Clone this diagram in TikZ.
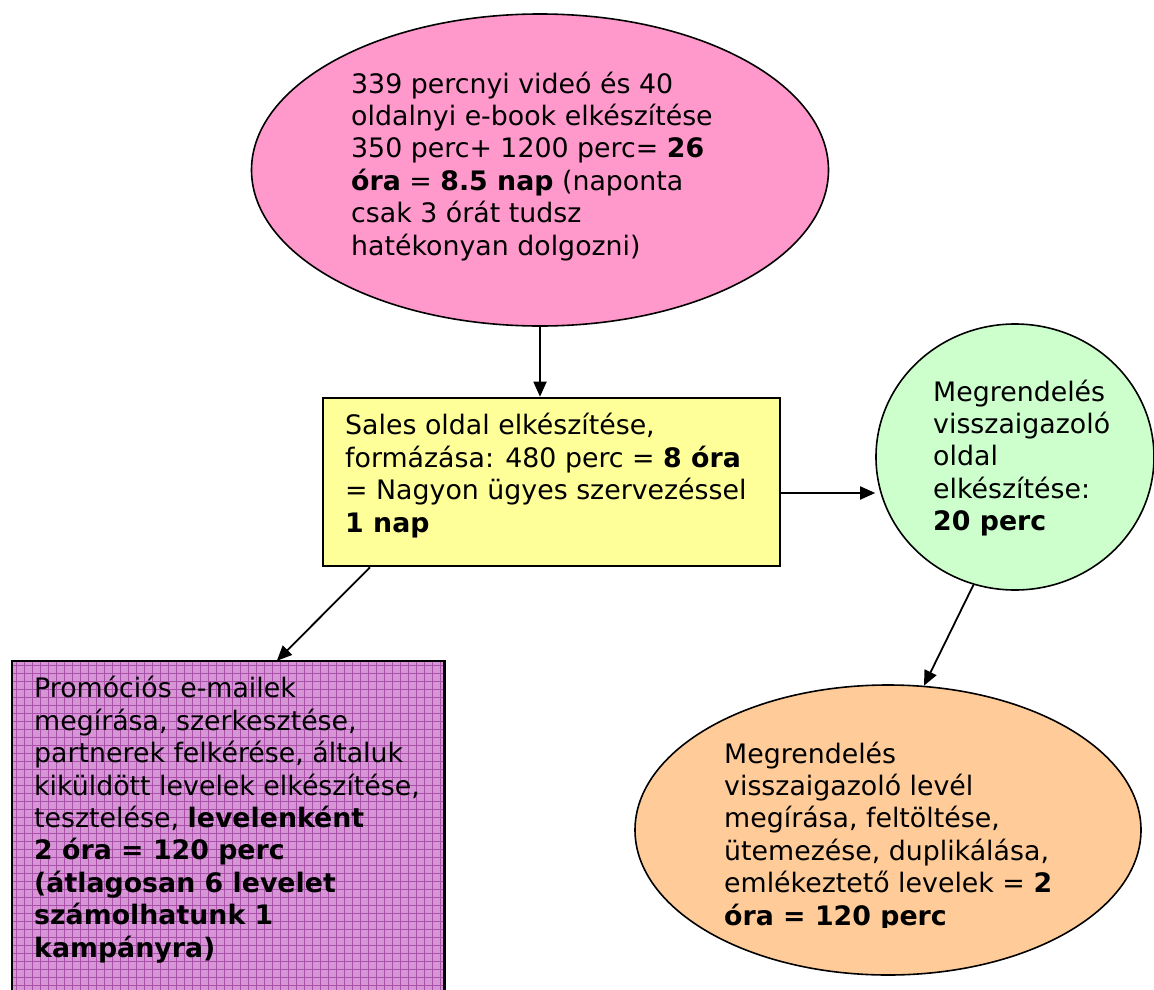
\documentclass[tikz,border=0pt]{standalone}
\usepackage{fontspec}
\setmainfont{DejaVu Sans}
\usetikzlibrary{arrows.meta,calc,shapes.geometric}
\definecolor{pinkf}{HTML}{FF99CC}
\definecolor{yellowf}{HTML}{FFFF99}
\definecolor{greenf}{HTML}{CCFFCC}
\definecolor{orangef}{HTML}{FFCC99}
\definecolor{purplef}{RGB}{214,150,214}
\definecolor{purpleg}{RGB}{170,80,170}
\tikzset{
  txt/.style={anchor=base west, align=left, inner sep=0pt, font=\fontsize{26.8}{32.4}\selectfont},
  ell/.style={ellipse, draw, line width=1.6pt, inner sep=0pt},
  boxs/.style={rectangle, draw, line width=2.6pt, inner sep=0pt},
  arr/.style={line width=1.8pt, -{Triangle[length=15pt,width=13pt]}},
}
\begin{document}
\begin{tikzpicture}[x=1pt,y=-1pt]
\useasboundingbox (0,0) rectangle (1154,990);
\clip (0,0) rectangle (1154,990);
% shapes
\node[ell, fill=pinkf, minimum width=577pt, minimum height=312pt] (pink) at (540,170) {};
\node[boxs, fill=yellowf, minimum width=457pt, minimum height=168pt] (yellow) at (551.5,482) {};
\node[ell, fill=greenf, minimum width=278pt, minimum height=266pt] (green) at (1015,457) {};
\node[ell, fill=orangef, minimum width=506pt, minimum height=290pt] (orange) at (888,830) {};
\node[rectangle, fill=purplef, minimum width=432pt, minimum height=345pt, inner sep=0pt] (purple) at (228,833.5) {};
\begin{scope}
\clip (purple.south west) rectangle (purple.north east);
\foreach \gx in {16,24,...,448} {\draw[purpleg, line width=0.8pt] (\gx,655) -- (\gx,1010);}
\foreach \gy in {665,673,...,1010} {\draw[purpleg, line width=0.8pt] (8,\gy) -- (450,\gy);}
\end{scope}
\draw[line width=2.6pt] (purple.south west) rectangle (purple.north east);
% texts (anchored at the baseline of the last line)
\node[txt] (tpink) at (351,255) {339 percnyi videó és 40\\oldalnyi e-book elkészítése\\350 perc+ 1200 perc= \textbf{26}\\\textbf{óra} = \textbf{8.5 nap} (naponta\\csak 3 órát tudsz\\hatékonyan dolgozni)};
\node[txt] (tyellow) at (345,532) {Sales oldal elkészítése,\\formázása: 480 perc = \textbf{8 óra}\\= Nagyon ügyes szervezéssel\\\textbf{1 nap}};
\node[txt] (tgreen) at (933,530.6) {Megrendelés\\visszaigazoló\\oldal\\elkészítése:\\\textbf{20 perc}};
\node[txt] (tpurple) at (34,957) {Promóciós e-mailek\\megírása, szerkesztése,\\partnerek felkérése, általuk\\kiküldött levelek elkészítése,\\tesztelése, \textbf{levelenként}\\\textbf{2 óra = 120 perc}\\\textbf{(átlagosan 6 levelet}\\\textbf{számolhatunk 1}\\\textbf{kampányra)}};
\begin{scope}
\clip (600,700) rectangle (1154,927);
\node[txt] (torange) at (724,925) {Megrendelés\\visszaigazoló levél\\megírása, feltöltése,\\ütemezése, duplikálása,\\emlékeztető levelek = \textbf{2}\\\textbf{óra = 120 perc}};
\end{scope}
% connectors
\coordinate (ya) at (780,493);
\draw[arr] (pink.south) -- (pink.south |- yellow.north);
\draw[arr] (ya) -- (green.west |- ya);
\draw[arr] ($(yellow.south west)!0.105!(yellow.south east)$) -- ($(purple.north west)!0.613!(purple.north east)$);
\draw[arr] (green.252) -- (orange.76);
\end{tikzpicture}
\end{document}
